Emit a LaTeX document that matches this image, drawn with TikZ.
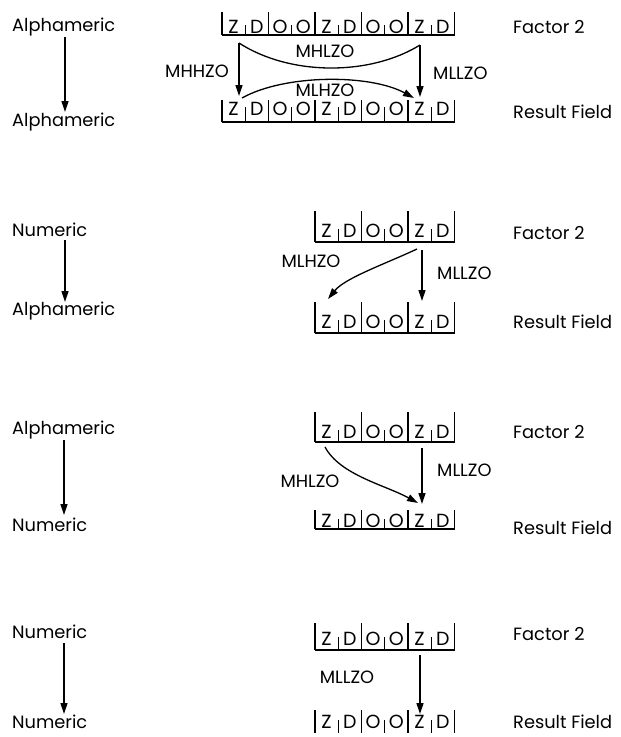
\documentclass[tikz,border=0pt]{standalone}
\usepackage{fontspec}
\setmainfont{Poppins}
\usetikzlibrary{arrows.meta}

\tikzset{
  txt/.style={font=\fontsize{17.8}{20}\selectfont, inner sep=0pt},
  cell/.style={font=\fontsize{19}{21}\selectfont, inner sep=0pt, anchor=base},
  fld/.style={line width=1.1pt},
  flow/.style={line width=1.3pt, -{Triangle[length=11pt,width=7pt]}},
}

% A field of bytes: #1 name, #2 left x, #3 top of tall bars, #4 letter baseline,
% #5 bottom y, #6 zone/digit pairs, #7 number of bytes, #8 draw bottom rule (1/0)
\newcommand\fieldrow[8]{%
  \foreach \p/\q [count=\i from 0] in {#6} {%
    \pgfmathsetmacro\xl{#2+\i*46.5}
    \draw[fld] (\xl,#3) -- (\xl,#5);
    \draw[fld] (\xl+23.25,#4-8) -- (\xl+23.25,#5);
    \node[cell] (#1-\i-a) at (\xl+11.6,#4) {\p};
    \node[cell] (#1-\i-b) at (\xl+34.9,#4) {\q};
  }
  \draw[fld] (#2+#7*46.5,#3) -- (#2+#7*46.5,#5);
  \ifnum#8=1 \draw[fld] (#2,#5) -- (#2+#7*46.5,#5);\fi
}

\begin{document}
\begin{tikzpicture}[x=1pt,y=-1pt]
\useasboundingbox (0,0) rectangle (621,737);
\fill[white] (0,0) rectangle (621,737);

% ---------- Alphameric to Alphameric ----------
\node[txt, anchor=base west] (l1a) at (12,31) {Alphameric};
\node[txt, anchor=base west] (l1b) at (12,126) {Alphameric};
\coordinate (l1s) at (65,37);
\coordinate (l1e) at (65,112);
\draw[flow] (l1s) -- (l1e);

\fieldrow{f1}{222}{12}{33}{35}{Z/D,O/O,Z/D,O/O,Z/D}{5}{1}
\fieldrow{r1}{222}{100}{115}{122}{Z/D,O/O,Z/D,O/O,Z/D}{5}{1}
\node[txt, anchor=base west] (f1lab) at (513,33) {Factor 2};
\node[txt, anchor=base west] (r1lab) at (513,118) {Result Field};

\coordinate (c1l) at (239,43);
\coordinate (c1le) at (239,96);
\coordinate (c1r) at (420,45);
\coordinate (c1re) at (420,97);
\coordinate (c1bs) at (242,98);
\coordinate (c1be) at (414,98);
\draw[flow] (c1l) -- (c1le);
\draw[flow] (c1r) -- (c1re);
\draw[line width=1.3pt] (c1l) .. controls (290,76) and (370,76) .. (c1r);
\draw[flow] (c1bs) .. controls (285,74) and (370,74) .. (c1be);
\node[txt, anchor=base east] (m1a) at (229,77) {MHHZO};
\node[txt, anchor=base west] (m1b) at (433,79) {MLLZO};
\node[txt, anchor=base] (m1c) at (325,57) {MHLZO};
\node[txt, anchor=base] (m1d) at (325,96) {MLHZO};

% ---------- Numeric to Alphameric ----------
\node[txt, anchor=base west] (l2a) at (12,236) {Numeric};
\node[txt, anchor=base west] (l2b) at (12,315) {Alphameric};
\coordinate (l2s) at (65,240);
\coordinate (l2e) at (65,302);
\draw[flow] (l2s) -- (l2e);

\fieldrow{f2}{315}{211}{237}{242}{Z/D,O/O,Z/D}{3}{1}
\fieldrow{r2}{315}{302}{328}{333}{Z/D,O/O,Z/D}{3}{1}
\node[txt, anchor=base west] (f2lab) at (513,239) {Factor 2};
\node[txt, anchor=base west] (r2lab) at (513,328) {Result Field};

\coordinate (c2s) at (422,250);
\coordinate (c2e) at (422,301);
\coordinate (c2cs) at (417,249);
\coordinate (c2ce) at (328,299);
\draw[flow] (c2s) -- (c2e);
\draw[flow] (c2cs) .. controls (385,264) and (345,278) .. (c2ce);
\node[txt, anchor=base] (m2a) at (311,267) {MLHZO};
\node[txt, anchor=base west] (m2b) at (437,279) {MLLZO};

% ---------- Alphameric to Numeric ----------
\node[txt, anchor=base west] (l3a) at (12,434) {Alphameric};
\node[txt, anchor=base west] (l3b) at (12,531) {Numeric};
\coordinate (l3s) at (64,440);
\coordinate (l3e) at (64,515);
\draw[flow] (l3s) -- (l3e);

\fieldrow{f3}{315}{412}{438}{442}{Z/D,O/O,Z/D}{3}{1}
\fieldrow{r3}{315}{510}{527}{529}{Z/D,O/O,Z/D}{3}{1}
\node[txt, anchor=base west] (f3lab) at (513,438) {Factor 2};
\node[txt, anchor=base west] (r3lab) at (513,534) {Result Field};

\coordinate (c3s) at (422,448);
\coordinate (c3e) at (422,504);
\coordinate (c3cs) at (325,447);
\coordinate (c3ce) at (418,503);
\draw[flow] (c3s) -- (c3e);
\draw[flow] (c3cs) .. controls (340,475) and (385,485) .. (c3ce);
\node[txt, anchor=base] (m3a) at (310,487) {MHLZO};
\node[txt, anchor=base west] (m3b) at (437,476) {MLLZO};

% ---------- Numeric to Numeric ----------
\node[txt, anchor=base west] (l4a) at (12,638) {Numeric};
\node[txt, anchor=base west] (l4b) at (12,728) {Numeric};
\coordinate (l4s) at (64,643);
\coordinate (l4e) at (64,714);
\draw[flow] (l4s) -- (l4e);

\fieldrow{f4}{315}{623}{645}{650}{Z/D,O/O,Z/D}{3}{1}
\fieldrow{r4}{315}{710}{728}{733}{Z/D,O/O,Z/D}{3}{0}
\node[txt, anchor=base west] (f4lab) at (513,640) {Factor 2};
\node[txt, anchor=base west] (r4lab) at (513,728) {Result Field};

\coordinate (c4s) at (420,655);
\coordinate (c4e) at (420,714);
\draw[flow] (c4s) -- (c4e);
\node[txt, anchor=base] (m4a) at (347,683) {MLLZO};
\end{tikzpicture}
\end{document}
